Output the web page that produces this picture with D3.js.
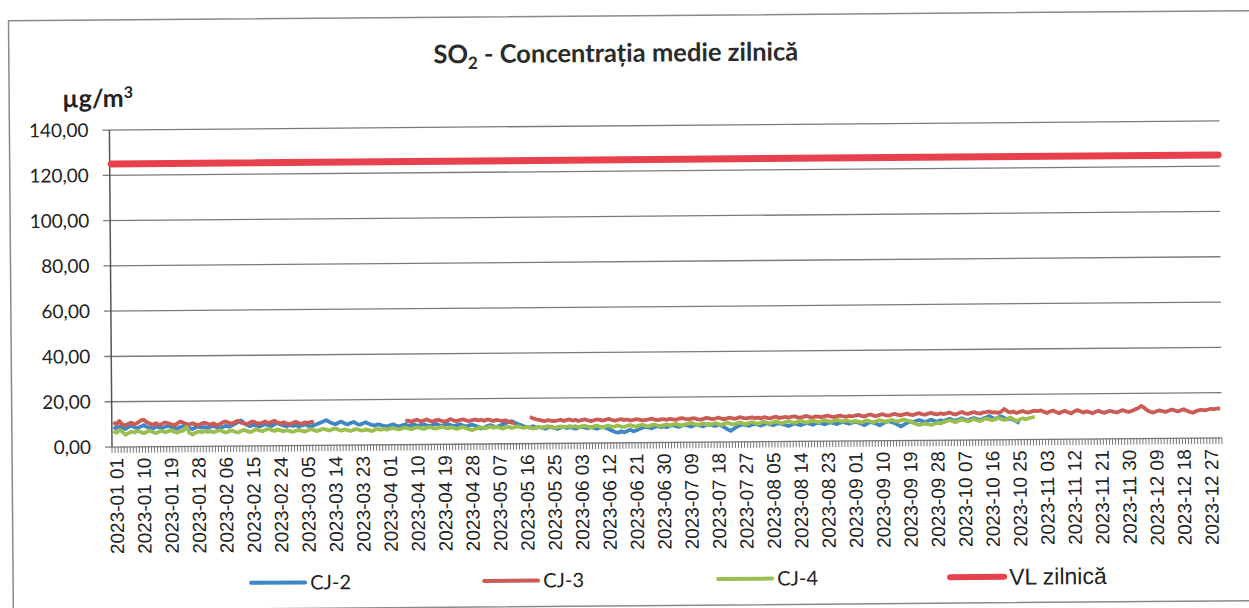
<!DOCTYPE html>
<meta charset="utf-8">
<style>
body { margin: 0; background: #fff; }
svg { display: block; }
.grid line { stroke: #7a7a7a; stroke-width: 1.3px; }
.ylab { font-family: Lato, sans-serif; font-size: 19px; fill: #222; }
.xlab { font-family: "Liberation Sans", Arial, sans-serif; font-size: 19px; fill: #222; }
.leg { font-family: Lato, sans-serif; font-size: 20px; fill: #222; }
</style>
<svg width="1249" height="608"></svg>
<script src="https://d3js.org/d3.v7.min.js"></script>
<script>

// daily values, 2023-01-01 onward (µg/m3); null = no data
var cj2 = [
  8.7,8.3,9.1,8.5,7.9,8.8,9.3,8.6,8.2,8.9,9.5,8.7,8.4,8.0,8.8,8.5,8.1,8.7,9.2,8.6,8.3,7.9,8.6,9.0,8.4,8.1,7.6,8.3,8.7,8.2,8.5,
  8.1,8.6,8.9,8.3,7.8,8.4,9.0,8.5,9.1,9.8,10.5,11.3,10.1,9.2,8.7,9.3,8.9,8.5,9.0,9.6,9.1,8.7,9.4,10.0,9.3,8.8,8.5,9.1,
  8.6,9.0,8.4,8.8,9.3,8.7,8.3,8.9,9.4,9.9,10.5,11.1,10.3,9.7,9.2,9.9,10.4,9.6,9.1,9.7,10.2,9.4,8.9,9.5,10.0,9.3,8.8,8.5,9.1,8.7,8.3,
  8.1,8.6,9.0,8.4,8.0,8.5,8.9,8.3,8.6,8.8,8.2,8.5,8.9,8.4,8.0,8.6,9.1,8.5,8.1,8.7,9.0,8.3,7.9,8.4,8.8,8.2,7.7,8.3,8.6,8.0,
  7.5,6.8,7.3,7.9,8.3,7.8,7.4,8.0,8.5,9.1,9.6,10.0,9.3,8.7,8.2,7.6,7.3,7.1,7.7,6.9,7.3,6.9,6.5,7.0,7.4,6.8,6.4,6.9,7.3,6.7,7.1,
  6.8,6.4,7.0,7.3,6.9,6.5,7.1,6.7,6.3,6.8,7.1,6.6,6.0,5.4,4.8,4.5,5.1,4.6,5.2,5.8,5.0,5.5,6.1,6.6,7.0,6.7,6.3,6.9,7.2,6.8,
  7.1,6.7,7.3,7.6,7.2,6.8,7.4,7.7,7.3,6.9,7.5,7.8,7.3,7.0,7.6,7.9,7.4,7.1,7.7,7.2,6.4,5.6,4.9,5.7,6.7,7.3,7.7,7.4,7.0,7.6,7.9,
  7.5,7.1,7.7,8.0,7.6,7.2,7.8,8.1,7.7,7.3,6.8,7.4,7.9,7.5,7.1,7.7,8.1,7.8,7.3,7.9,8.2,7.8,7.4,8.0,8.3,7.9,7.5,8.1,8.4,8.0,7.6,
  8.1,8.5,8.0,7.6,6.9,7.7,8.3,7.9,7.5,6.8,7.6,8.2,8.6,8.1,7.7,6.9,6.2,7.0,7.8,8.4,8.0,8.6,9.0,8.5,8.1,8.7,9.1,8.6,8.2,8.8,
  8.4,9.0,9.4,8.9,8.5,9.1,9.6,9.0,8.6,9.3,9.7,9.2,8.7,9.4,9.9,10.5,9.7,9.2,9.8,10.3,9.6,9.0,9.3,8.7,8.0,7.3
];

var cj3 = [
  10.9,10.1,11.5,9.8,9.5,10.3,10.7,9.9,10.6,11.6,12.0,10.8,10.2,9.7,10.4,9.6,10.0,10.7,10.3,9.8,9.4,10.1,11.0,10.5,9.9,9.6,10.2,9.7,9.3,10.0,10.4,
  9.9,9.5,10.1,9.2,9.7,10.5,10.9,10.2,9.8,10.6,11.1,10.3,10.0,9.6,10.4,10.8,10.1,9.7,10.3,10.7,9.9,10.5,11.0,10.2,9.8,10.3,9.7,9.4,
  10.0,10.5,9.8,9.6,10.2,9.9,10.4,10.1,null,null,null,null,null,null,null,null,null,null,null,null,null,null,null,null,null,null,null,null,null,null,null,
  null,null,null,null,null,null,10.3,10.6,10.0,10.7,10.9,10.2,10.5,11.0,10.4,10.1,10.7,10.8,10.3,10.0,10.6,11.1,10.4,10.2,10.7,10.9,10.5,10.1,10.6,10.8,
  10.4,10.7,10.2,10.8,10.5,10.1,10.6,10.3,10.0,10.4,9.7,9.3,8.9,null,null,null,null,11.8,11.1,10.7,10.4,10.1,9.9,10.3,10.0,9.8,10.1,10.4,9.9,10.2,10.5,
  10.0,10.3,9.8,10.2,10.5,10.1,9.7,10.0,10.4,10.2,9.9,10.3,10.6,10.1,9.8,10.2,10.5,10.0,10.3,9.9,10.1,10.4,10.2,9.8,10.0,10.3,10.6,10.1,9.9,10.2,
  10.3,10.0,10.4,10.2,9.9,10.5,10.7,10.3,10.1,10.4,10.6,10.2,10.0,10.3,10.7,10.5,10.1,10.4,10.8,10.3,10.0,10.5,10.7,10.2,10.4,10.9,10.6,10.3,10.5,10.8,10.4,
  10.6,10.3,10.8,10.5,10.2,10.7,11.0,10.4,10.6,10.9,10.5,10.8,11.1,10.6,10.4,10.9,11.2,10.7,10.5,11.0,10.8,10.6,11.1,11.3,10.8,10.6,11.0,11.2,10.9,10.7,11.1,
  10.8,11.2,11.5,11.0,10.7,11.3,11.6,11.1,10.9,11.4,11.7,11.2,11.0,11.5,11.8,11.3,11.1,11.6,11.9,11.4,11.2,11.7,12.0,11.5,11.3,11.8,12.1,11.6,11.4,11.9,
  11.5,11.8,12.2,11.6,11.3,11.9,12.4,11.8,11.5,12.0,12.3,11.8,11.6,12.1,12.2,12.5,12.0,12.2,11.8,12.4,13.6,12.5,12.0,12.4,11.7,12.2,12.6,12.1,11.9,12.4,12.7,
  12.5,12.8,12.2,11.6,12.3,12.7,12.0,11.5,12.1,12.5,11.8,11.4,12.2,12.8,12.3,11.7,12.2,11.9,11.3,12.0,12.4,11.8,11.5,12.1,12.3,11.9,11.6,12.2,12.6,12.1,
  11.8,12.3,12.9,13.4,14.4,13.6,12.5,11.8,11.4,12.0,12.4,12.0,11.7,12.2,12.7,12.3,11.8,12.3,12.8,12.1,11.6,11.2,11.9,12.3,12.5,12.2,12.6,12.9,12.7,13.0,12.9
];

var cj4 = [
  6.9,6.2,7.5,6.6,5.3,6.1,6.7,6.3,7.0,6.5,5.9,6.6,7.1,6.4,6.0,6.6,6.9,6.3,6.8,7.2,6.5,6.1,6.7,7.0,8.6,5.9,5.2,6.0,6.5,6.2,6.7,
  6.3,6.6,6.1,6.7,7.0,6.4,6.0,6.5,6.9,6.3,5.9,6.6,7.1,6.5,6.1,6.7,7.3,6.8,6.4,7.0,7.5,6.9,6.5,7.1,6.7,6.3,6.8,6.4,
  6.0,6.5,6.9,6.4,6.1,6.7,7.2,6.7,6.3,6.8,7.3,6.9,6.5,7.0,7.4,6.8,6.4,6.9,6.6,6.2,6.7,7.1,6.6,6.3,6.8,6.5,6.1,6.7,7.0,6.6,7.1,
  6.7,7.1,7.4,7.0,6.7,7.2,7.5,7.1,6.8,7.3,7.6,7.2,6.9,7.3,7.7,7.2,6.9,7.4,7.8,7.3,7.0,7.5,7.1,6.7,7.2,7.6,7.0,6.6,6.1,6.7,
  7.0,7.4,6.8,7.2,7.6,7.1,7.5,7.1,6.7,7.2,7.5,7.0,7.3,7.7,7.2,6.9,7.4,7.0,6.6,7.1,7.4,6.9,7.3,7.6,7.1,6.8,7.2,7.5,7.0,7.3,7.6,
  7.2,7.5,7.0,7.4,7.7,7.2,6.9,7.4,7.7,7.2,6.9,7.4,7.6,7.1,7.3,7.7,7.2,7.0,7.5,7.8,7.3,7.1,7.6,7.9,7.4,7.2,7.7,8.0,7.5,7.3,
  7.7,8.0,7.5,7.9,8.2,7.7,7.4,7.9,8.2,8.7,8.0,7.6,7.9,8.3,7.8,7.5,8.0,8.4,7.9,7.6,8.1,8.5,8.0,7.7,8.2,8.6,8.1,7.8,8.3,8.7,8.2,
  7.9,8.4,8.8,8.3,8.0,8.5,8.9,8.4,8.1,8.6,9.0,8.5,8.2,8.7,9.1,8.6,8.3,8.8,9.2,8.7,8.4,8.9,9.3,8.8,8.5,9.0,9.4,8.9,8.6,9.1,8.7,
  8.4,8.9,8.5,8.1,8.6,9.0,8.5,8.2,8.7,9.1,8.6,8.3,8.8,9.2,8.7,8.4,8.9,9.3,8.8,8.5,7.8,7.2,6.9,7.1,7.5,7.0,6.8,7.3,7.7,7.4,
  8.0,8.4,8.8,8.3,7.9,8.5,9.0,8.6,8.2,8.7,9.2,8.7,8.3,8.9,9.4,9.0,8.6,9.1,9.6,9.1,8.7,9.2,9.8,8.9,8.2,8.8,9.4,9.0,9.3,9.7,10.0
];

var vlZilnica = 125;          // daily limit value
var yTicks = [0, 20, 40, 60, 80, 100, 120, 140];
var seriesNames = ["CJ-2", "CJ-3", "CJ-4", "VL zilnică"];
var seriesColors = ["#3f86c6", "#cc5a55", "#9bbf4f", "#e8414e"];

var svg = d3.select("svg");

// the scanned page is slightly tilted
var g = svg.append("g").attr("transform", "rotate(-0.47,112,447)");

var days = d3.timeDay.range(new Date(2023, 0, 1), new Date(2024, 0, 1));
var fmt = d3.timeFormat("%Y-%m %d");
var numFmt = function(v) { return d3.format(".2f")(v).replace(".", ","); };

var x = d3.scaleBand().domain(d3.range(days.length)).range([112, 1222]).padding(0);
var y = d3.scaleLinear().domain([0, 140]).range([447, 130]);
var bw = x.bandwidth();

// outer frame
g.append("rect")
    .attr("x", 12).attr("y", 20)
    .attr("width", 1300).attr("height", 590)
    .attr("fill", "none").attr("stroke", "#8a8a8a").attr("stroke-width", 1.5);

// title
var title = g.append("text")
    .attr("x", 619).attr("y", 66)
    .attr("text-anchor", "middle")
    .style("font-family", "Lato, sans-serif").style("font-weight", "bold")
    .style("font-size", "25.5px").style("fill", "#2b2b2b");
title.append("tspan").text("SO");
title.append("tspan").text("2").style("font-size", "17px").attr("dy", 6);
title.append("tspan").text(" - Concentrația medie zilnică").attr("dy", -6);

var unit = g.append("text")
    .attr("x", 65).attr("y", 107)
    .style("font-family", "Lato, sans-serif").style("font-weight", "bold")
    .style("font-size", "25px").style("fill", "#222");
unit.append("tspan").text("µg/m");
unit.append("tspan").text("3").style("font-size", "16px").attr("dy", -9);

// gridlines
g.append("g").attr("class", "grid")
  .selectAll("line").data(yTicks).enter().append("line")
    .attr("x1", 105).attr("x2", 1222)
    .attr("y1", function(d) { return y(d); })
    .attr("y2", function(d) { return y(d); });

g.append("line")
    .attr("x1", 112).attr("x2", 112).attr("y1", y(140)).attr("y2", y(0))
    .attr("stroke", "#555").attr("stroke-width", 1.5);

g.append("g").selectAll("text").data(yTicks).enter().append("text")
    .attr("class", "ylab")
    .attr("x", 91).attr("y", function(d) { return y(d); })
    .attr("dy", "0.35em").attr("text-anchor", "end")
    .text(numFmt);

// x axis: a tick between every day
var ticks = d3.range(days.length + 1);
g.append("g").selectAll("line").data(ticks).enter().append("line")
    .attr("x1", function(i) { return 112 + i * bw; })
    .attr("x2", function(i) { return 112 + i * bw; })
    .attr("y1", 447).attr("y2", 453)
    .attr("stroke", "#666").attr("stroke-width", 0.9);

g.append("g").selectAll("text")
    .data(days.map(function(d, i) { return i; }).filter(function(i) { return i % 9 === 0; }))
    .enter().append("text")
    .attr("class", "xlab")
    .attr("transform", function(i) {
      return "translate(" + (x(i) + bw / 2 + 3) + ",458) rotate(-90)";
    })
    .attr("dy", "0.35em").attr("text-anchor", "end")
    .text(function(i) { return fmt(days[i]); });

// series
var line = d3.line()
    .defined(function(d) { return d != null; })
    .x(function(d, i) { return x(i) + bw / 2; })
    .y(function(d) { return y(d); });

[cj2, cj3, cj4].forEach(function(s, k) {
  g.append("path")
      .datum(s)
      .attr("fill", "none")
      .attr("stroke", seriesColors[k])
      .attr("stroke-width", 3.8)
      .attr("stroke-linejoin", "round")
      .attr("d", line);
});

g.append("line")
    .attr("x1", x(0) + bw / 2).attr("x2", x(days.length - 1) + bw / 2)
    .attr("y1", y(vlZilnica)).attr("y2", y(vlZilnica))
    .attr("stroke", seriesColors[3]).attr("stroke-width", 7)
    .attr("stroke-linecap", "round");

// legend
var legX = [250, 483, 717, 949];
seriesNames.forEach(function(name, k) {
  g.append("line")
      .attr("x1", legX[k]).attr("x2", legX[k] + 54)
      .attr("y1", 584).attr("y2", 584)
      .attr("stroke", seriesColors[k])
      .attr("stroke-width", k === 3 ? 6 : 4)
      .attr("stroke-linecap", "round");
  g.append("text")
      .attr("class", "leg")
      .attr("x", legX[k] + 59).attr("y", 584).attr("dy", "0.35em")
      .style("font-family", k === 3 ? "'Liberation Sans', Arial, sans-serif" : null)
      .style("font-size", k === 3 ? "23px" : null)
      .text(name);
});

</script>
